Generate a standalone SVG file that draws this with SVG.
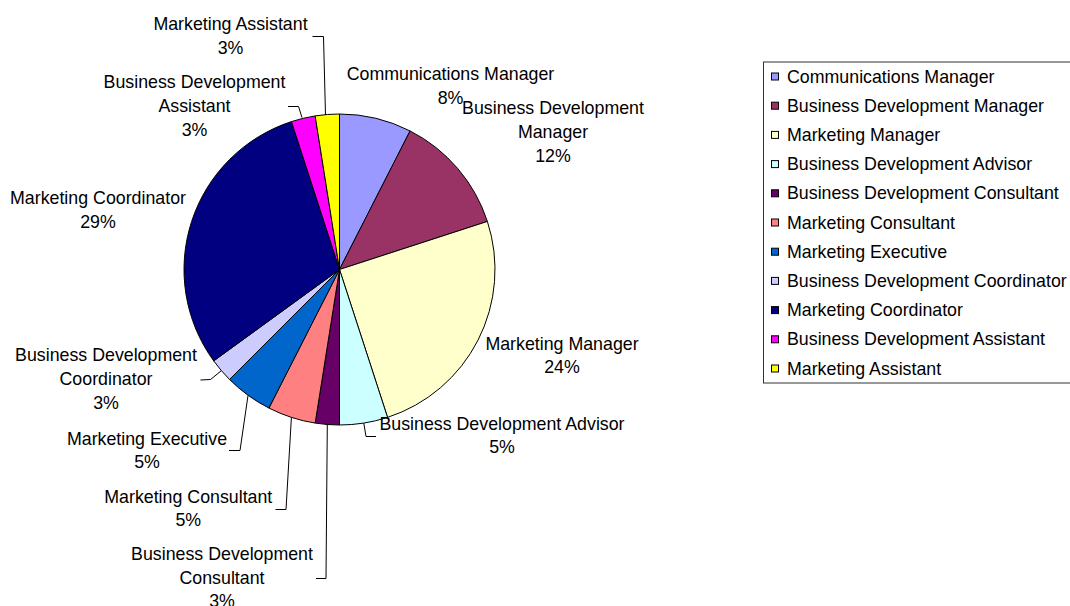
<svg xmlns="http://www.w3.org/2000/svg" width="1070" height="606" viewBox="0 0 1070 606">
<style>
text{font-family:"Liberation Sans",Arial,sans-serif;font-size:17.8px;fill:#000}
.lbl{text-anchor:middle}
.slice{stroke:#000;stroke-width:1;stroke-linejoin:round}
.lead{fill:none;stroke:#000;stroke-width:1}
.key{stroke:#000;stroke-width:1}
</style>
<rect width="1070" height="606" fill="#fff"/>
<g id="pie">
<g id="slice-communications-manager"><path class="slice" fill="#9999FF" d="M339.5,269.5 L339.5,114 A155.5,155.5 0 0 1 410.1,130.95 Z"/></g>
<g id="slice-bd-manager"><path class="slice" fill="#993366" d="M339.5,269.5 L410.1,130.95 A155.5,155.5 0 0 1 487.39,221.45 Z"/></g>
<g id="slice-marketing-manager"><path class="slice" fill="#FFFFCC" d="M339.5,269.5 L487.39,221.45 A155.5,155.5 0 0 1 387.55,417.39 Z"/></g>
<g id="slice-bd-advisor"><path class="slice" fill="#CCFFFF" d="M339.5,269.5 L387.55,417.39 A155.5,155.5 0 0 1 339.5,425 Z"/></g>
<g id="slice-bd-consultant"><path class="slice" fill="#660066" d="M339.5,269.5 L339.5,425 A155.5,155.5 0 0 1 315.17,423.09 Z"/></g>
<g id="slice-marketing-consultant"><path class="slice" fill="#FF8080" d="M339.5,269.5 L315.17,423.09 A155.5,155.5 0 0 1 268.9,408.05 Z"/></g>
<g id="slice-marketing-executive"><path class="slice" fill="#0066CC" d="M339.5,269.5 L268.9,408.05 A155.5,155.5 0 0 1 229.54,379.46 Z"/></g>
<g id="slice-bd-coordinator"><path class="slice" fill="#CCCCFF" d="M339.5,269.5 L229.54,379.46 A155.5,155.5 0 0 1 213.7,360.9 Z"/></g>
<g id="slice-marketing-coordinator"><path class="slice" fill="#000080" d="M339.5,269.5 L213.7,360.9 A155.5,155.5 0 0 1 291.45,121.61 Z"/></g>
<g id="slice-bd-assistant"><path class="slice" fill="#FF00FF" d="M339.5,269.5 L291.45,121.61 A155.5,155.5 0 0 1 315.17,115.91 Z"/></g>
<g id="slice-marketing-assistant"><path class="slice" fill="#FFFF00" d="M339.5,269.5 L315.17,115.91 A155.5,155.5 0 0 1 339.5,114 Z"/></g>
</g>
<g id="connectors">
<polyline class="lead" points="312.5,36.5 323.5,36.5 325.5,115"/>
<polyline class="lead" points="288,106.5 298.5,106.5 302,117.5"/>
<polyline class="lead" points="200.5,380 210.5,379.5 221.3,370.8"/>
<polyline class="lead" points="229,450.5 240,450.5 248,395.5"/>
<polyline class="lead" points="275.5,509.5 286,509.5 291.4,417.5"/>
<polyline class="lead" points="316,578.5 326,578.5 327.3,424.5"/>
<polyline class="lead" points="363.8,423.2 366,436.5 376,436.5"/>
</g>
<g id="labels">
<g id="label-marketing-assistant"><text class="lbl" x="230.5" y="30">Marketing Assistant</text><text class="lbl" x="230.5" y="53.5">3%</text></g>
<g id="label-bd-assistant"><text class="lbl" x="194.5" y="88">Business Development</text><text class="lbl" x="194.5" y="112">Assistant</text><text class="lbl" x="194.5" y="136">3%</text></g>
<g id="label-marketing-coordinator"><text class="lbl" x="98" y="204">Marketing Coordinator</text><text class="lbl" x="98" y="228">29%</text></g>
<g id="label-bd-coordinator"><text class="lbl" x="106" y="361">Business Development</text><text class="lbl" x="106" y="385">Coordinator</text><text class="lbl" x="106" y="409">3%</text></g>
<g id="label-marketing-executive"><text class="lbl" x="147" y="444.5">Marketing Executive</text><text class="lbl" x="147" y="468">5%</text></g>
<g id="label-marketing-consultant"><text class="lbl" x="188.3" y="502.5">Marketing Consultant</text><text class="lbl" x="188.3" y="526">5%</text></g>
<g id="label-bd-consultant"><text class="lbl" x="222" y="559.5">Business Development</text><text class="lbl" x="222" y="583.5">Consultant</text><text class="lbl" x="222" y="607">3%</text></g>
<g id="label-communications-manager"><text class="lbl" x="450.5" y="79.5">Communications Manager</text><text class="lbl" x="450.5" y="103.5">8%</text></g>
<g id="label-bd-manager"><text class="lbl" x="553" y="114">Business Development</text><text class="lbl" x="553" y="138">Manager</text><text class="lbl" x="553" y="162">12%</text></g>
<g id="label-marketing-manager"><text class="lbl" x="562" y="349.5">Marketing Manager</text><text class="lbl" x="562" y="373">24%</text></g>
<g id="label-bd-advisor"><text class="lbl" x="502" y="430">Business Development Advisor</text><text class="lbl" x="502" y="453">5%</text></g>
</g>
<g id="legend">
<rect x="763.5" y="62" width="320" height="321" fill="#fff" stroke="#333" stroke-width="1"/>
<g id="legend-1"><rect class="key" x="771.5" y="73" width="7" height="7" fill="#9999FF"/><text x="787" y="82.5">Communications Manager</text></g>
<g id="legend-2"><rect class="key" x="771.5" y="102.2" width="7" height="7" fill="#993366"/><text x="787" y="111.7">Business Development Manager</text></g>
<g id="legend-3"><rect class="key" x="771.5" y="131.4" width="7" height="7" fill="#FFFFCC"/><text x="787" y="140.9">Marketing Manager</text></g>
<g id="legend-4"><rect class="key" x="771.5" y="160.6" width="7" height="7" fill="#CCFFFF"/><text x="787" y="170.1">Business Development Advisor</text></g>
<g id="legend-5"><rect class="key" x="771.5" y="189.8" width="7" height="7" fill="#660066"/><text x="787" y="199.3">Business Development Consultant</text></g>
<g id="legend-6"><rect class="key" x="771.5" y="219" width="7" height="7" fill="#FF8080"/><text x="787" y="228.5">Marketing Consultant</text></g>
<g id="legend-7"><rect class="key" x="771.5" y="248.2" width="7" height="7" fill="#0066CC"/><text x="787" y="257.7">Marketing Executive</text></g>
<g id="legend-8"><rect class="key" x="771.5" y="277.4" width="7" height="7" fill="#CCCCFF"/><text x="787" y="286.9">Business Development Coordinator</text></g>
<g id="legend-9"><rect class="key" x="771.5" y="306.6" width="7" height="7" fill="#000080"/><text x="787" y="316.1">Marketing Coordinator</text></g>
<g id="legend-10"><rect class="key" x="771.5" y="335.8" width="7" height="7" fill="#FF00FF"/><text x="787" y="345.3">Business Development Assistant</text></g>
<g id="legend-11"><rect class="key" x="771.5" y="365" width="7" height="7" fill="#FFFF00"/><text x="787" y="374.5">Marketing Assistant</text></g>
</g>
</svg>
